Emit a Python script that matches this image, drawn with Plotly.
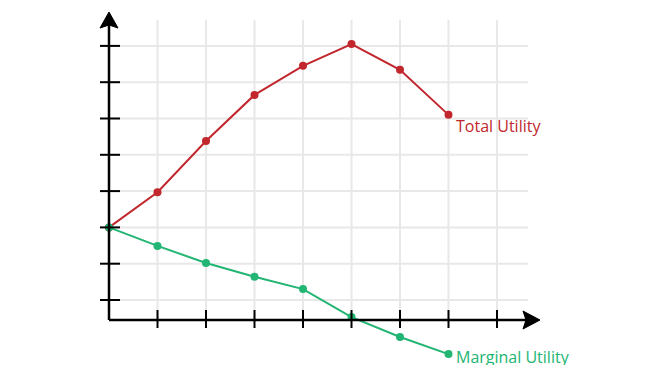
import plotly.graph_objects as go

# ---- data ----
quantity = [0, 1, 2, 3, 4, 5, 6, 7]
total_utility = [3.0, 3.97, 5.38, 6.65, 7.45, 8.05, 7.34, 6.1]
marginal_utility = [3.0, 2.49, 2.02, 1.64, 1.30, 0.53, -0.02, -0.49]
grid_x = [1, 2, 3, 4, 5, 6, 7, 8]
grid_y = [1, 2, 3, 4, 5, 6, 7, 8]

RED = "#C1272D"
GREEN = "#22B573"
GRID = "#E8E8E8"

W, H = 650, 365
X0, XS = 109.0, 48.5      # pixel of x=0, px per unit
Y0, YS = 336.3, 36.3      # pixel of y=0, px per unit


def dx(px):
    return (px - X0) / XS


def dy(py):
    return (Y0 - py) / YS


x_axis_y = dy(320)
grid_top = dy(20)
grid_right = dx(528)

fig = go.Figure()
shapes = []

# grid
for gx in grid_x:
    shapes.append(dict(type="line", x0=gx, x1=gx, y0=x_axis_y, y1=grid_top,
                       line=dict(color=GRID, width=2), layer="below"))
for gy in grid_y:
    shapes.append(dict(type="line", x0=0, x1=grid_right, y0=gy, y1=gy,
                       line=dict(color=GRID, width=2), layer="below"))

# axes
shapes.append(dict(type="line", x0=0, x1=dx(526), y0=x_axis_y, y1=x_axis_y,
                   line=dict(color="black", width=2.5)))
shapes.append(dict(type="line", x0=0, x1=0, y0=x_axis_y, y1=dy(24),
                   line=dict(color="black", width=2.5)))

# ticks
for gx in grid_x:
    shapes.append(dict(type="line", x0=gx, x1=gx, y0=dy(310), y1=dy(328),
                       line=dict(color="black", width=2)))
for gy in grid_y:
    shapes.append(dict(type="line", x0=dx(100), x1=dx(120), y0=gy, y1=gy,
                       line=dict(color="black", width=2)))


def path(points):
    return "M " + " L ".join(f"{dx(a)},{dy(b)}" for a, b in points) + " Z"


# arrowheads
shapes.append(dict(type="path",
                   path=path([(X0, 12), (X0 + 9, 28), (X0, 25), (X0 - 9, 28)]),
                   fillcolor="black", line=dict(color="black", width=1)))
shapes.append(dict(type="path",
                   path=path([(540, 320), (523, 311), (526, 320), (523, 329)]),
                   fillcolor="black", line=dict(color="black", width=1)))

fig.add_trace(go.Scatter(x=quantity, y=total_utility, mode="lines+markers",
                         line=dict(color=RED, width=2),
                         marker=dict(color=RED, size=8), cliponaxis=False,
                         hoverinfo="skip"))
fig.add_trace(go.Scatter(x=quantity, y=marginal_utility, mode="lines+markers",
                         line=dict(color=GREEN, width=2),
                         marker=dict(color=GREEN, size=8), cliponaxis=False,
                         hoverinfo="skip"))

annotations = [
    dict(x=quantity[-1], y=total_utility[-1], text="Total Utility",
         showarrow=False, xanchor="left", yanchor="middle", xshift=5, yshift=-11,
         font=dict(family="Open Sans", size=16, color=RED)),
    dict(x=quantity[-1], y=marginal_utility[-1], text="Marginal Utility",
         showarrow=False, xanchor="left", yanchor="middle", xshift=5, yshift=-3,
         font=dict(family="Open Sans", size=16, color=GREEN)),
]

fig.update_layout(
    width=W, height=H,
    margin=dict(l=0, r=0, t=0, b=0),
    paper_bgcolor="white", plot_bgcolor="white",
    showlegend=False,
    shapes=shapes,
    annotations=annotations,
    xaxis=dict(range=[dx(0), dx(W)], visible=False, fixedrange=True),
    yaxis=dict(range=[dy(H), dy(0)], visible=False, fixedrange=True),
)

fig.write_html("out.html")
